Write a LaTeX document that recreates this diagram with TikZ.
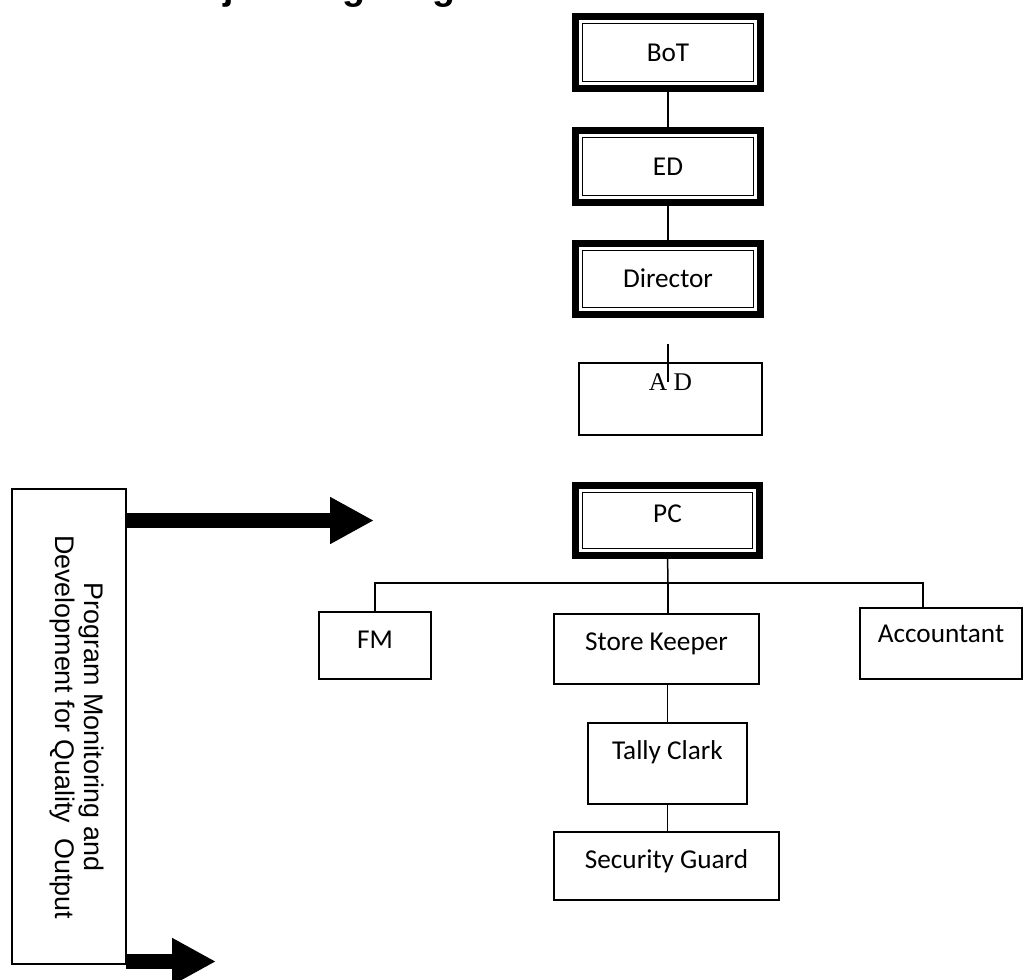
\documentclass[tikz,border=0pt]{standalone}
\usepackage{fontspec}
\setmainfont{Carlito}
\newfontfamily\sidefont{Liberation Sans}
\newfontfamily\serfont{Liberation Serif}
\usetikzlibrary{arrows.meta}

\tikzset{
  unit/.style={draw, line width=0.85pt, outer sep=0pt, inner sep=2pt,
    text height=10pt, text depth=0pt, font=\fontsize{15.5}{18}\selectfont},
  head/.style={unit, line width=3.8pt},
  lift/.style={text depth=#1},
  bigarrow/.style={line width=8pt, -{Triangle[length=25pt,width=25pt]}},
}

\begin{document}
\begin{tikzpicture}[x=0.02cm, y=-0.02cm, line width=0.85pt]
\useasboundingbox (0,0) rectangle (1024,980);

% title, cut by the top of the page
\node[anchor=base west, inner sep=0pt, font=\sidefont\bfseries\fontsize{21.4}{24}\selectfont] (title) at (160,0) {Project Organogram};

% chain down to PC
\node[head, minimum width=3.7cm, minimum height=1.44cm] (bot) at (668,52.5) {BoT};
\node[head, minimum width=3.7cm, minimum height=1.44cm] (ed) at (668,166.5) {ED};
\node[head, minimum width=3.7cm, minimum height=1.42cm] (dir) at (668,279) {Director};
\node[unit, minimum width=3.66cm, minimum height=1.44cm, text height=9.6pt, lift=19.3pt,
  font=\serfont\fontsize{14.5}{17}\selectfont] (ad) at (670.5,399) {A D};
\node[head, minimum width=3.68cm, minimum height=1.4cm, lift=8pt] (pc) at (667.5,520.5) {PC};
\foreach \n in {bot,ed,dir,pc}
  \draw[line width=0.7pt] ([shift={(7,7)}]\n.north west) rectangle ([shift={(-7,-7)}]\n.south east);

\draw (bot) -- (ed);
\draw (ed) -- (dir);
\coordinate (adstub) at (668,344);
\coordinate (adend) at (668,382);
\draw (adstub) -- (adend);

% staff under PC
\node[unit, minimum width=2.24cm, minimum height=1.34cm, lift=6.2pt] (fm) at (375,645.5) {FM};
\node[unit, minimum width=4.1cm, minimum height=1.4cm, lift=8pt] (sk) at (656.5,649) {Store Keeper};
\node[unit, minimum width=3.24cm, minimum height=1.42cm, lift=10.8pt] (acc) at (941,643.5) {Accountant};
\node[unit, minimum width=3.18cm, minimum height=1.62cm, lift=14pt] (tc) at (667.5,763.5) {Tally Clark};
\node[unit, minimum width=4.5cm, minimum height=1.36cm, lift=6.8pt] (sg) at (666.5,866) {Security Guard};

\coordinate (bar) at (668,583);
\coordinate (accdrop) at (923,583);
\draw (pc.south) -- (bar);
\draw (fm.north) |- (accdrop) -- (accdrop |- acc.north);
\draw (bar) -- (bar |- sk.north);
\draw (tc.north) -- (tc.north |- sk.south);
\draw (tc.south) -- (tc.south |- sg.north);

% side box
\node[unit, minimum width=2.28cm, minimum height=9.5cm] (pmd) at (69,726.5) {};
\node[rotate=-90, align=center, inner sep=0pt, font=\sidefont\fontsize{15.3}{17}\selectfont] (pmdtext) at (77,727)
  {Program Monitoring and\\Development for Quality~ Output};

\coordinate (tipa) at (374,520.5);
\coordinate (tipb) at (216,961.5);
\draw[bigarrow] (pmd.east |- tipa) -- (tipa);
\draw[bigarrow] (pmd.east |- tipb) -- (tipb);
\end{tikzpicture}
\end{document}
